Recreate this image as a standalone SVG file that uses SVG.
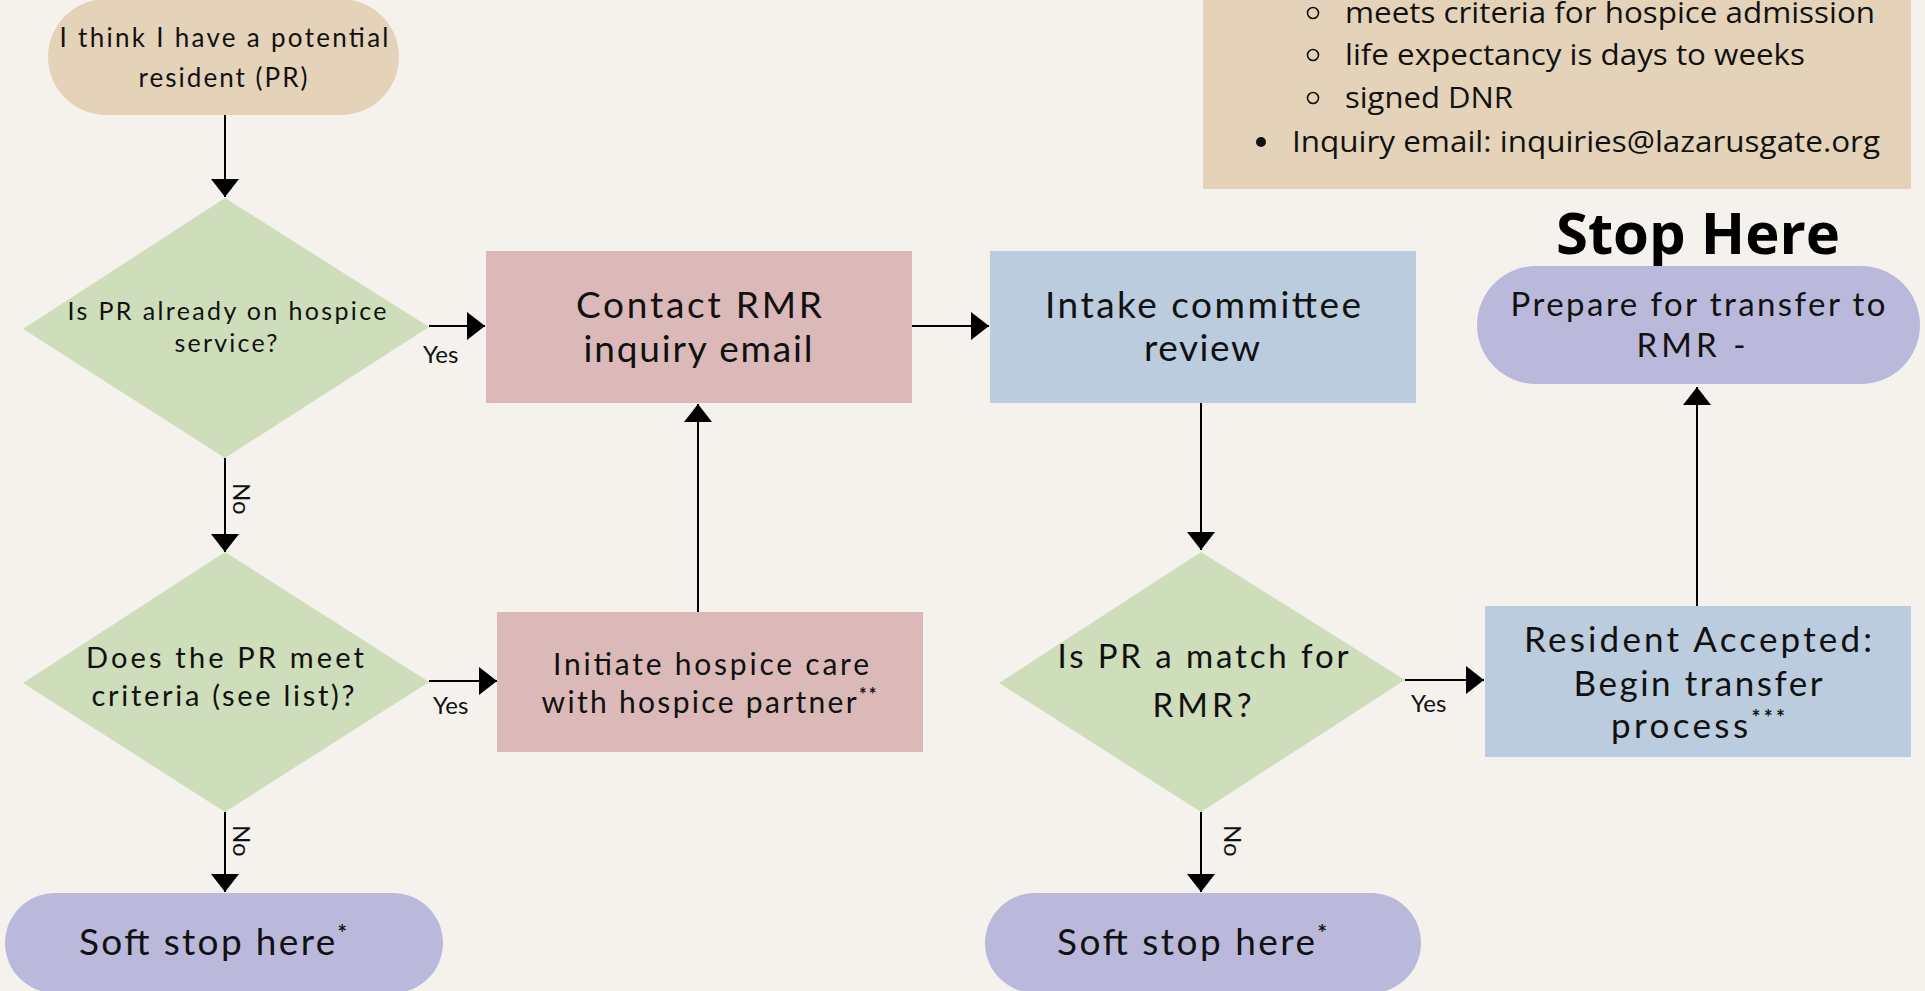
<svg xmlns="http://www.w3.org/2000/svg" width="1925" height="991" viewBox="0 0 1925 991">
<style>
.bg{fill:#F5F2EE}
.beige{fill:#E5D3B9}
.green{fill:#CEDDBA}
.pink{fill:#DCB9B9}
.blue{fill:#BBCCDE}
.purple{fill:#BAB9DB}
.t{font-family:Lato,"Noto Sans",sans-serif;fill:#111;text-anchor:middle}
.lbl{font-family:Lato,"Noto Sans",sans-serif;fill:#111;font-size:24px}
.info{font-family:"Open Sans","Noto Sans",sans-serif;fill:#111;font-size:30px}
.conn{stroke:#000;stroke-width:2;fill:none;marker-end:url(#arr)}
.sup{font-size:0.6em;font-weight:bold}
</style>
<defs>
<marker id="arr" markerUnits="userSpaceOnUse" markerWidth="20" markerHeight="30" refX="18" refY="14" orient="auto">
<path d="M0,0 L18,14 L0,28 Z" fill="#000"/>
</marker>
</defs>
<rect class="bg" x="0" y="0" width="1925" height="991"/>

<g id="info-box">
<rect class="beige" x="1203" y="-10" width="708" height="199"/>
<circle cx="1313" cy="13" r="5.5" fill="none" stroke="#111" stroke-width="1.6"/>
<text class="info" x="1345" y="23" textLength="530" lengthAdjust="spacingAndGlyphs">meets criteria for hospice admission</text>
<circle cx="1313" cy="55" r="5.5" fill="none" stroke="#111" stroke-width="1.6"/>
<text class="info" x="1345" y="65" textLength="460" lengthAdjust="spacingAndGlyphs">life expectancy is days to weeks</text>
<circle cx="1313" cy="98" r="5.5" fill="none" stroke="#111" stroke-width="1.6"/>
<text class="info" x="1345" y="108" textLength="168" lengthAdjust="spacingAndGlyphs">signed DNR</text>
<circle cx="1261" cy="142" r="5" fill="#111"/>
<text class="info" x="1292" y="152" textLength="588" lengthAdjust="spacingAndGlyphs">Inquiry email: inquiries@lazarusgate.org</text>
</g>

<g id="stop-here-heading">
<text x="1698" y="254" font-family="'Open Sans','Noto Sans',sans-serif" font-weight="bold" font-size="58" text-anchor="middle" fill="#000">Stop Here</text>
</g>

<g id="connectors">
<line class="conn" x1="225" y1="115" x2="225" y2="197"/>
<line class="conn" x1="429" y1="326" x2="485" y2="326"/>
<line class="conn" x1="225" y1="458" x2="225" y2="552"/>
<line class="conn" x1="429" y1="681" x2="497" y2="681"/>
<line class="conn" x1="225" y1="812" x2="225" y2="892"/>
<line class="conn" x1="698" y1="612" x2="698" y2="404"/>
<line class="conn" x1="912" y1="326" x2="989" y2="326"/>
<line class="conn" x1="1201" y1="403" x2="1201" y2="550"/>
<line class="conn" x1="1405" y1="680" x2="1484" y2="680"/>
<line class="conn" x1="1201" y1="812" x2="1201" y2="892"/>
<line class="conn" x1="1697" y1="606" x2="1697" y2="387"/>
<text class="lbl" x="423" y="363">Yes</text>
<text class="lbl" x="433" y="714">Yes</text>
<text class="lbl" x="1411" y="712">Yes</text>
<text class="lbl" transform="translate(233,483) rotate(90)">No</text>
<text class="lbl" transform="translate(233,825) rotate(90)">No</text>
<text class="lbl" transform="translate(1224,825) rotate(90)">No</text>
</g>

<g id="start">
<rect class="beige" x="48" y="-1" width="351" height="116" rx="58"/>
<text class="t" font-size="26"><tspan x="224" y="47" textLength="329" lengthAdjust="spacing">I think I have a potential</tspan><tspan x="223" y="87" textLength="169" lengthAdjust="spacing">resident (PR)</tspan></text>
</g>

<g id="decision-hospice">
<polygon class="green" points="225,198 429,327 225,458 23,329"/>
<text class="t" font-size="25"><tspan x="227" y="320" textLength="319" lengthAdjust="spacing">Is PR already on hospice</tspan><tspan x="226" y="352" textLength="103" lengthAdjust="spacing">service?</tspan></text>
</g>

<g id="decision-criteria">
<polygon class="green" points="225,552 429,682 225,812 23,683"/>
<text class="t" font-size="29"><tspan x="225" y="668" textLength="278" lengthAdjust="spacing">Does the PR meet</tspan><tspan x="223" y="706" textLength="263" lengthAdjust="spacing">criteria (see list)?</tspan></text>
</g>

<g id="soft-stop-1">
<rect class="purple" x="5" y="893" width="438" height="100" rx="50"/>
<text class="t" font-size="37" x="213" y="955" textLength="268" lengthAdjust="spacing">Soft stop here<tspan class="sup" dy="-14">*</tspan></text>
</g>

<g id="contact-rmr">
<rect class="pink" x="486" y="251" width="426" height="152"/>
<text class="t" font-size="37"><tspan x="699" y="318" textLength="246" lengthAdjust="spacing">Contact RMR</tspan><tspan x="698" y="362" textLength="229" lengthAdjust="spacing">inquiry email</tspan></text>
</g>

<g id="initiate-hospice">
<rect class="pink" x="497" y="612" width="426" height="140"/>
<text class="t" font-size="30"><tspan x="711" y="675" textLength="316" lengthAdjust="spacing">Initiate hospice care</tspan><tspan x="709" y="713" textLength="335" lengthAdjust="spacing">with hospice partner<tspan class="sup" dy="-12">**</tspan></tspan></text>
</g>

<g id="intake-review">
<rect class="blue" x="990" y="251" width="426" height="152"/>
<text class="t" font-size="37"><tspan x="1203" y="318" textLength="316" lengthAdjust="spacing">Intake committee</tspan><tspan x="1202" y="361" textLength="116" lengthAdjust="spacing">review</tspan></text>
</g>

<g id="decision-match">
<polygon class="green" points="1201,552 1405,680 1201,812 999,683"/>
<text class="t" font-size="33"><tspan x="1203" y="668" textLength="291" lengthAdjust="spacing">Is PR a match for</tspan><tspan x="1202" y="717" textLength="99" lengthAdjust="spacing">RMR?</tspan></text>
</g>

<g id="soft-stop-2">
<rect class="purple" x="985" y="893" width="436" height="100" rx="50"/>
<text class="t" font-size="37" x="1192" y="955" textLength="270" lengthAdjust="spacing">Soft stop here<tspan class="sup" dy="-14">*</tspan></text>
</g>

<g id="resident-accepted">
<rect class="blue" x="1485" y="606" width="426" height="151"/>
<text class="t" font-size="35"><tspan x="1698" y="652" textLength="348" lengthAdjust="spacing">Resident Accepted:</tspan><tspan x="1698" y="696" textLength="249" lengthAdjust="spacing">Begin transfer</tspan><tspan x="1698" y="738" textLength="174" lengthAdjust="spacing">process<tspan class="sup" dy="-13">***</tspan></tspan></text>
</g>

<g id="prepare-transfer">
<rect class="purple" x="1477" y="266" width="443" height="118" rx="59"/>
<text class="t" font-size="33"><tspan x="1698" y="316" textLength="375" lengthAdjust="spacing">Prepare for transfer to</tspan><tspan x="1691" y="357" textLength="109" lengthAdjust="spacing">RMR -</tspan></text>
</g>
</svg>
